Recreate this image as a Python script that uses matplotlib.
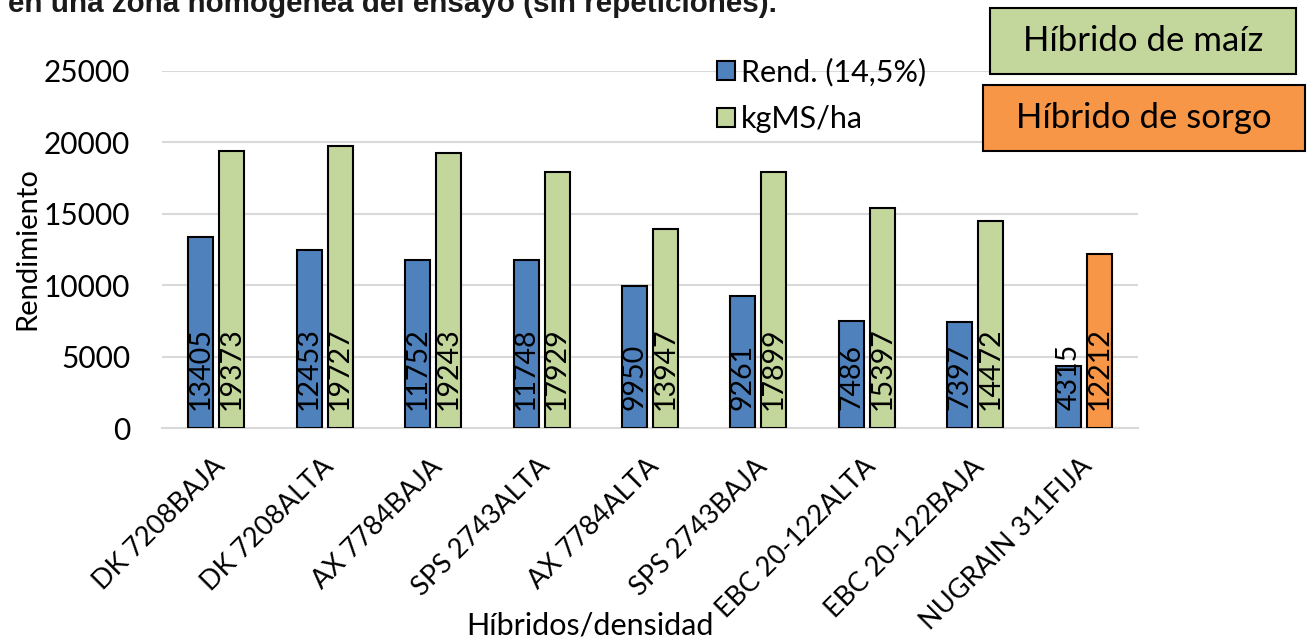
import matplotlib
matplotlib.use("Agg")
import matplotlib.pyplot as plt
from matplotlib.patches import Rectangle
from matplotlib.transforms import ScaledTranslation
import numpy as np

hibridos = ["DK 7208BAJA", "DK 7208ALTA", "AX 7784BAJA", "SPS 2743ALTA", "AX 7784ALTA",
            "SPS 2743BAJA", "EBC 20-122ALTA", "EBC 20-122BAJA", "NUGRAIN 311FIJA"]
rend = [13405, 12453, 11752, 11748, 9950, 9261, 7486, 7397, 4315]
kgms = [19373, 19727, 19243, 17929, 13947, 17899, 15397, 14472, 12212]
tipo = ["maiz"] * 8 + ["sorgo"]

azul = "#4F81BD"
verde = "#C3D69B"
naranja = "#F79646"

plt.rcParams['font.family'] = ['Lato', 'DejaVu Sans']

fig = plt.figure(figsize=(13.12, 6.41), dpi=100)
ax = fig.add_axes([162/1312, 213/641, 976/1312, 357/641])

x = np.arange(len(hibridos))
w = 0.23
off = 0.143
colores_ms = [verde if t == "maiz" else naranja for t in tipo]

b1 = ax.bar(x - off, rend, w, color=azul, edgecolor="black", linewidth=1.5, zorder=3)
b2 = ax.bar(x + off, kgms, w, color=colores_ms, edgecolor="black", linewidth=1.5, zorder=3)

for xi, v in zip(x - off, rend):
    ax.annotate(str(v), (xi, 0), xytext=(0, 13), textcoords="offset points",
                rotation=90, ha="center", va="bottom", fontsize=20.5, zorder=4)
for xi, v in zip(x + off, kgms):
    ax.annotate(str(v), (xi, 0), xytext=(0, 13), textcoords="offset points",
                rotation=90, ha="center", va="bottom", fontsize=20.5, zorder=4)

ax.set_xlim(-0.5, len(hibridos) - 0.5)
ax.set_ylim(0, 25000)
ax.set_yticks(range(0, 25001, 5000))
ax.tick_params(axis="y", length=0, labelsize=21.5, pad=23)
ax.tick_params(axis="x", length=0, labelsize=19.5, pad=10)
ax.set_xticks(x)
ax.set_xticklabels(hibridos, rotation=45, ha="right", rotation_mode="anchor")
for lbl in ax.get_xticklabels():
    lbl.set_transform(lbl.get_transform() + ScaledTranslation(-0.04, -0.12, fig.dpi_scale_trans))
ax.grid(axis="y", color="#D9D9D9", linewidth=1.5, zorder=0)
for s in ["top", "right", "left"]:
    ax.spines[s].set_visible(False)
ax.spines["bottom"].set_color("#D9D9D9")
ax.spines["bottom"].set_linewidth(1.5)

fig.text(27/1312, 1 - 249/641, "Rendimiento", rotation=90, ha="center", va="center", fontsize=21)
fig.text(590/1312, 1 - 625/641, "Híbridos/densidad", ha="center", va="center", fontsize=22)

leg = ax.legend([b1, b2], ["Rend. (14,5%)", "kgMS/ha"], loc="upper left",
                bbox_to_anchor=(689/1312, 1 - 30/641), bbox_transform=fig.transFigure,
                frameon=False, fontsize=22, handlelength=0.6, handleheight=0.6,
                handletextpad=0.2, labelspacing=0.62)
leg.legend_handles[1].set_facecolor(verde)

# cuadros de referencia
fig.patches.append(Rectangle((990/1312, 1 - 74/641), 306/1312, 66/641, transform=fig.transFigure,
                             facecolor=verde, edgecolor="black", linewidth=1.5, figure=fig))
fig.text(1143/1312, 1 - 41/641, "Híbrido de maíz", ha="center", va="center", fontsize=25)
fig.patches.append(Rectangle((983/1312, 1 - 151/641), 322/1312, 66/641, transform=fig.transFigure,
                             facecolor=naranja, edgecolor="black", linewidth=1.5, figure=fig))
fig.text(1144/1312, 1 - 118/641, "Híbrido de sorgo", ha="center", va="center", fontsize=25)

fig.text(8/1312, 1 - 12/641, "en una zona homogénea del ensayo (sin repeticiones).",
         ha="left", va="baseline", fontsize=21.3, fontweight="bold", color="#1a1a1a",
         family=["Liberation Sans", "DejaVu Sans"])

fig.savefig("out.png", dpi=100)
